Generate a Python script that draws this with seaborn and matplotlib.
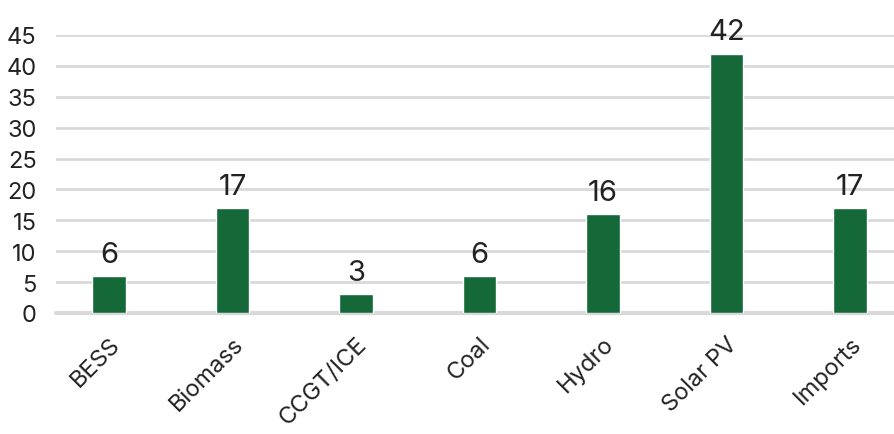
import matplotlib
matplotlib.use("Agg")
import matplotlib.pyplot as plt
import seaborn as sns
import pandas as pd

# data
categories = ["BESS", "Biomass", "CCGT/ICE", "Coal", "Hydro", "Solar PV", "Imports"]
values = [6, 17, 3, 6, 16, 42, 17]

df = pd.DataFrame({"tech": categories, "value": values})

sns.set_style("white")
plt.rcParams["font.family"] = ["Inter", "DejaVu Sans"]

fig = plt.figure(figsize=(8.95, 4.35), dpi=100)
ax = fig.add_axes([56 / 895, 1 - 314 / 435, (895 - 56) / 895, 278 / 435])

sns.barplot(data=df, x="tech", y="value", color="#156939", width=0.275,
            saturation=1, ax=ax, zorder=3)

ax.set_ylim(0, 45)
ax.set_xlim((56 - 109) / 123.5, (895 - 109) / 123.5)
ax.set_yticks(range(0, 46, 5))
ax.yaxis.grid(True, color="#d9d9d9", linewidth=2)
ax.axhline(0, color="#d9d9d9", linewidth=3, clip_on=False, zorder=2)
ax.set_axisbelow(True)
for s in ax.spines.values():
    s.set_visible(False)

ax.set_xlabel("")
ax.set_ylabel("")
ax.tick_params(axis="y", labelsize=17, colors="#222222", length=0, pad=14)
ax.tick_params(axis="x", labelsize=17, colors="#222222", length=0, pad=14)
plt.setp(ax.get_xticklabels(), rotation=45, ha="right", rotation_mode="anchor")

for i, v in enumerate(values):
    ax.annotate(str(v), (i, v), xytext=(0, 6), textcoords="offset points",
                ha="center", va="bottom", fontsize=21, color="#222222")

fig.savefig("out.png", dpi=100)
